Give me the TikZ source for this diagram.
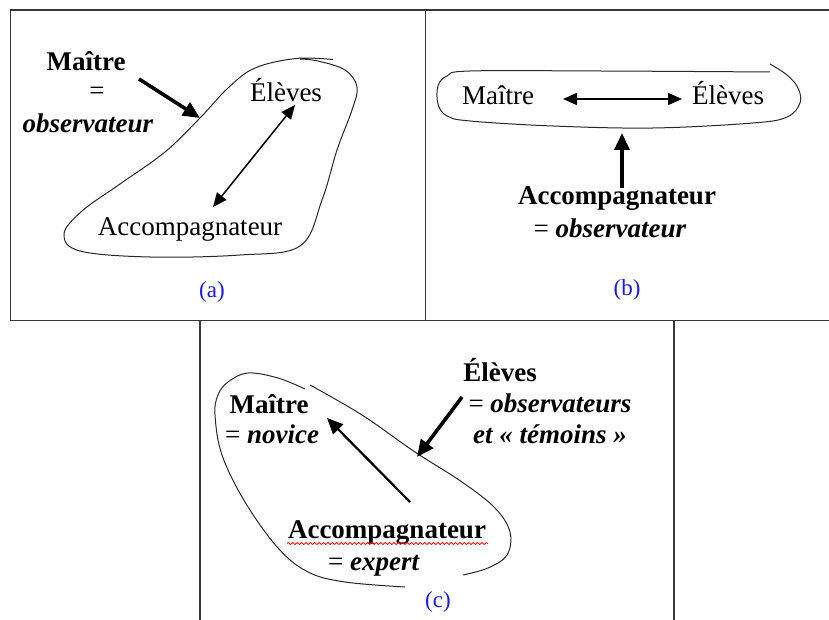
\documentclass[tikz,border=0pt]{standalone}
\usepackage{fontspec}
\setmainfont{Liberation Serif}
\usetikzlibrary{arrows.meta,decorations.pathmorphing}
\definecolor{capblue}{RGB}{25,25,235}
\definecolor{framegray}{RGB}{55,55,55}
\definecolor{blobgray}{RGB}{40,40,40}
\begin{document}
\begin{tikzpicture}[x=0.5pt,y=-0.5pt,
  frame/.style={draw=framegray, line width=0.7pt},
  blob/.style={draw=blobgray, line width=0.5pt},
  lbl/.style={inner sep=0pt, anchor=base, font=\fontsize{13.5pt}{16pt}\selectfont},
  captxt/.style={inner sep=0pt, text=capblue, font=\fontsize{11.5pt}{14pt}\selectfont},
  thickarr/.style={line width=1.8pt, -{Triangle[length=8.5pt,width=7.5pt]}},
  medarr/.style={line width=1.1pt, -{Triangle[length=8pt,width=7pt]}},
  thinarr/.style={line width=0.75pt, {Triangle[length=7pt,width=6pt]}-{Triangle[length=7pt,width=6pt]}},
  wavy/.style={draw=red, line width=0.4pt, decorate, decoration={snake, amplitude=0.5pt, segment length=2.2pt}}
]
\useasboundingbox (0,0) rectangle (829,620);

% frames
\draw[frame] (10.5,320.5) -- (10.5,10) -- (829,10);
\draw[frame] (10.5,320.5) -- (829,320.5);
\draw[frame] (425.5,10) -- (425.5,320.5);
\draw[frame] (200,320.5) -- (200,620);
\draw[frame] (674,320.5) -- (674,620);

% ---------- panel (a)
\draw[blob] plot[smooth, tension=0.6] coordinates {(333,59.5) (296,58.5) (255,68) (228,88) (200,118) (165,152) (120,184) (82,211) (64,234) (80,251) (150,257) (240,255) (300,246) (322,200) (337,150) (352,110) (357,87) (345,70) (318,61) (300,59)};
\node[lbl] (aM) at (86,71) {\textbf{Maître}};
\node[lbl] (aMeq) at (97,100) {=};
\node[lbl] (aMobs) at (88,133) {\textbf{\textit{observateur}}};
\node[lbl] (aE) at (286,102) {Élèves};
\node[lbl] (aA) at (190,235) {Accompagnateur};
\node[captxt] (acap) at (212,292) {(a)};
\coordinate (aS) at (139,79);
\coordinate (aT) at (200,118);
\draw[thickarr] (aS) -- (aT);
\coordinate (aE1) at (295,105);
\coordinate (aA1) at (213,207);
\draw[thinarr] (aA1) -- (aE1);

% ---------- panel (b)
\draw[blob] plot[smooth, tension=0.6] coordinates {(770,64) (787,75) (798,88) (800,103) (787,117) (753,123) (653,128) (553,126) (470,121) (447,116) (438,104) (438,86) (447,76) (470,71) (600,71) (770,72)};
\node[lbl] (bM) at (498,105) {Maître};
\node[lbl] (bE) at (728,105) {Élèves};
\node[lbl] (bA) at (617,205) {\textbf{Accompagnateur}};
\node[lbl] (bAobs) at (610,237) {= \textbf{\textit{observateur}}};
\node[captxt] (bcap) at (627,290) {(b)};
\coordinate (bM1) at (563,99);
\coordinate (bE1) at (682,99);
\draw[thinarr] (bM1) -- (bE1);
\coordinate (bS) at (622,188);
\coordinate (bT) at (622,133);
\draw[thickarr] (bS) -- (bT);

% ---------- panel (c)
\draw[blob] plot[smooth, tension=0.6] coordinates {(310,385) (362,415) (415,452) (462,482) (495,508) (510,532) (507,555) (488,568) (463,575)};
\draw[blob] plot[smooth, tension=0.6] coordinates {(405,587) (345,582) (308,572) (278,548) (245,502) (222,455) (215,415) (218,395) (228,382) (248,373) (278,378) (305,389)};
\node[lbl] (cM) at (269,413) {\textbf{Maître}};
\node[lbl] (cMnov) at (272,443) {= \textbf{\textit{novice}}};
\node[lbl] (cE) at (500,381) {\textbf{Élèves}};
\node[lbl] (cEobs) at (550,412) {= \textbf{\textit{observateurs}}};
\node[lbl] (cEtem) at (550,443) {\textbf{\textit{et « témoins »}}};
\node[lbl] (cA) at (387,538) {\textbf{Accompagnateur}};
\node[lbl] (cAexp) at (374,570) {= \textit{\textbf{expert}}};
\node[captxt] (ccap) at (438,602) {(c)};
\draw[wavy] (287,543.5) -- (488,543.5);
\coordinate (cS) at (410,502);
\coordinate (cT) at (327,418);
\draw[medarr] (cS) -- (cT);
\coordinate (cS2) at (462,397);
\coordinate (cT2) at (417,457);
\draw[thickarr] (cS2) -- (cT2);
\end{tikzpicture}
\end{document}
